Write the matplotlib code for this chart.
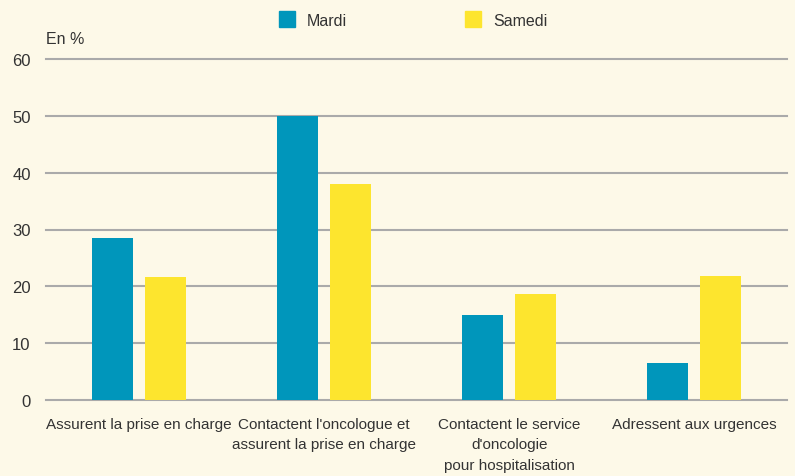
import matplotlib
matplotlib.use("Agg")
from matplotlib import pyplot
import numpy

categories = ["Assurent la prise en charge",
              "Contactent l'oncologue et\nassurent la prise en charge",
              "Contactent le service\nd'oncologie\npour hospitalisation",
              "Adressent aux urgences"]
series_names = ["Mardi", "Samedi"]
mardi = [28.5, 50.0, 15.0, 6.5]
samedi = [21.6, 38.0, 18.7, 21.8]
yticks = [0, 10, 20, 30, 40, 50, 60]

bg = "#fdf9e8"
blue = "#0096bb"
yellow = "#fde52e"
txt = "#333333"

pyplot.rcParams["font.family"] = ["Liberation Sans", "DejaVu Sans"]
fs = 11

fig = pyplot.figure(figsize=(7.95, 4.77), dpi=100, facecolor=bg)
ax = fig.add_axes([46 / 795, 76 / 477, 741 / 795, 341 / 477])
ax.set_facecolor(bg)

x = numpy.arange(len(categories))
w = 0.221
off = 0.143
ax.bar(x - off, mardi, w, color=blue, zorder=3, label=series_names[0])
ax.bar(x + off, samedi, w, color=yellow, zorder=3, label=series_names[1])

ax.set_xlim(-0.5, 3.5)
ax.set_ylim(0, 60)
for y in yticks:
    ax.axhline(y, color="#aaaaaa", lw=1.5, zorder=1, clip_on=False)

for s in ax.spines.values():
    s.set_visible(False)
ax.set_yticks(yticks)
ax.set_yticklabels([str(v) for v in yticks], fontsize=fs + 1, color=txt)
ax.tick_params(axis="y", length=0, pad=11)
ax.set_xticks(x)
ax.set_xticklabels(categories, fontsize=fs, color=txt, linespacing=1.6, va="top")
ax.tick_params(axis="x", length=0, pad=12)

fig.text(46 / 795, 1 - 40 / 477, "En %", fontsize=fs + 0.5, color=txt, va="center", ha="left")

# legend drawn by hand in figure coords
for i, (name, col) in enumerate(zip(series_names, [blue, yellow])):
    x0 = (279 + i * 186) / 795
    fig.patches.append(matplotlib.patches.Rectangle((x0, 1 - 28 / 477), 16 / 795, 16 / 477,
                                                    transform=fig.transFigure, color=col))
    fig.text(x0 + 28 / 795, 1 - 21 / 477, name, fontsize=fs + 0.5, color=txt, va="center", ha="left")

fig.savefig("out.png", dpi=100, facecolor=bg)
